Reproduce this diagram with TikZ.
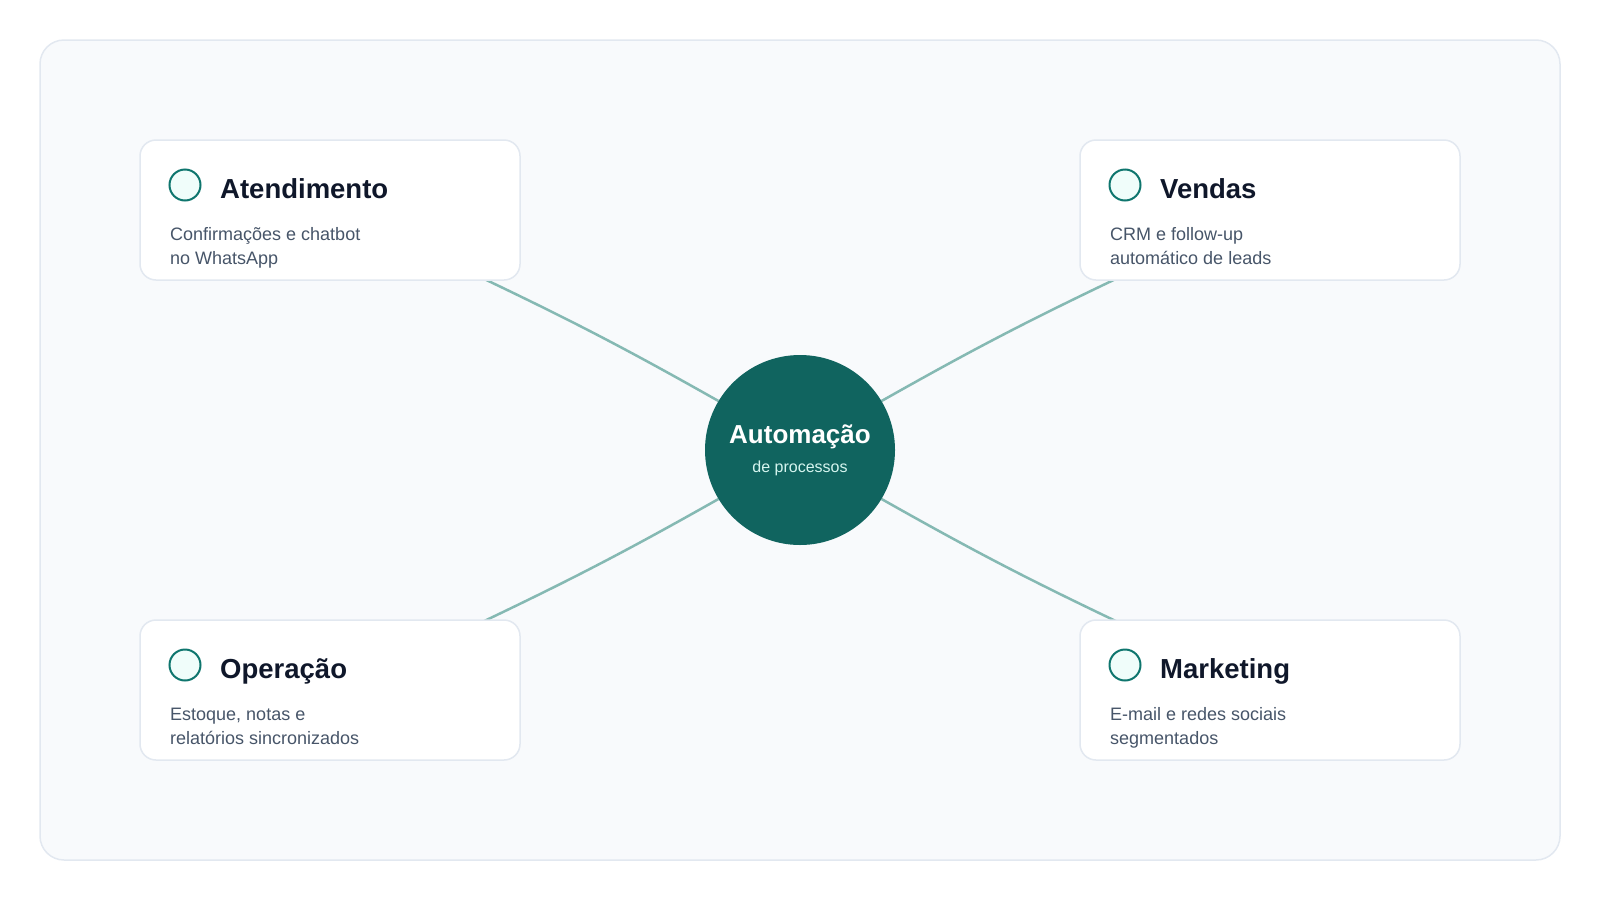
\documentclass[tikz,border=0pt]{standalone}
\usepackage{fontspec}
\setmainfont{Liberation Sans}
\usetikzlibrary{backgrounds}
\definecolor{frameline}{HTML}{E2E8F0}
\definecolor{framefill}{HTML}{F8FAFC}
\definecolor{dotline}{HTML}{0F766E}
\definecolor{dotfill}{HTML}{F0FDFA}
\definecolor{titlecol}{HTML}{0F172A}
\definecolor{desccol}{HTML}{475569}
\definecolor{hubcol}{HTML}{10645F}
\definecolor{hubsub}{HTML}{D5F5EF}
\definecolor{linkcol}{HTML}{85B9B3}
\tikzset{
	card/.style={draw=frameline, line width=1.5pt, fill=white, rounded corners=16pt, minimum width=380pt, minimum height=140pt, inner sep=0pt},
	dot/.style={circle, draw=dotline, line width=2pt, fill=dotfill, minimum size=31pt, inner sep=0pt},
	cardtitle/.style={anchor=base west, inner sep=0pt, text=titlecol, font=\fontsize{27.5}{32}\selectfont\bfseries},
	carddesc/.style={anchor=base west, inner sep=0pt, text=desccol, font=\fontsize{18}{24}\selectfont},
	hub/.style={circle, fill=hubcol, minimum size=190pt, inner sep=0pt},
	link/.style={draw=linkcol, line width=2.5pt},
}

\begin{document}
\begin{tikzpicture}[x=1pt, y=-1pt]
			\useasboundingbox (0,0) rectangle (1600,900);
			\foreach \nm/\x/\y/\tit/\la/\lb in {
				aten/140/140/Atendimento/{Confirmações e chatbot}/{no WhatsApp},
				vend/1080/140/Vendas/{CRM e follow-up}/{automático de leads},
				oper/140/620/Operação/{Estoque, notas e}/{relatórios sincronizados},
				mark/1080/620/Marketing/{E-mail e redes sociais}/{segmentados}} {
				\node[card] (\nm) at (\x+190,\y+70) {};
				\node[dot] (\nm-dot) at (\x+45,\y+45) {};
				\node[cardtitle] (\nm-title) at (\x+80,\y+58) {\tit};
				\node[carddesc] (\nm-la) at (\x+30,\y+100.5) {\la};
				\node[carddesc] (\nm-lb) at (\x+30,\y+124.5) {\lb};
			}
			\node[hub] (hub) at (800,450) {};
			\node[anchor=base, inner sep=0pt, text=white, font=\fontsize{26}{30}\selectfont\bfseries] (hub-title) at (800,443) {Automação};
			\node[anchor=base, inner sep=0pt, text=hubsub, font=\fontsize{16}{20}\selectfont] (hub-sub) at (800,472.5) {de processos};
			\coordinate (aten-end) at (478,276);
			\coordinate (vend-end) at (1122,276);
			\coordinate (oper-end) at (478,624);
			\coordinate (mark-end) at (1122,624);
			\begin{scope}[on background layer]
				\draw[frameline, line width=1.5pt, fill=framefill, rounded corners=24pt] (40,40) rectangle (1560,860);
				\draw[link] (hub.149) to[bend right=2] (aten-end);
				\draw[link] (hub.31) to[bend left=2] (vend-end);
				\draw[link] (hub.211) to[bend left=2] (oper-end);
				\draw[link] (hub.-31) to[bend right=2] (mark-end);
			\end{scope}
		\end{tikzpicture}
\end{document}
